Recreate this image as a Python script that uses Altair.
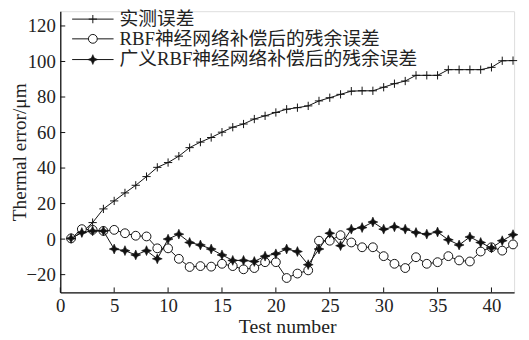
import altair as alt
import pandas as pd

test_no = list(range(1, 43))
measured = [0.4, 3.7, 9.3, 17.0, 21.5, 26.0, 30.3, 35.2, 40.4, 43.1,
            46.7, 51.5, 54.6, 57.2, 60.2, 63.0, 64.8, 67.6, 69.4, 71.3,
            73.1, 74.0, 75.0, 77.8, 79.6, 81.5, 83.3, 83.5, 83.5, 85.5,
            87.5, 89.0, 92.2, 92.2, 92.2, 95.4, 95.4, 95.4, 95.4, 96.7,
            100.4, 100.5]
rbf = [0.4, 5.6, 5.2, 4.6, 5.2, 3.3, 1.9, 1.5, -5.2, -5.2,
       -11.1, -15.7, -15.2, -15.5, -13.9, -15.2, -17.0, -16.3, -13.0, -13.0,
       -21.9, -19.4, -17.6, -0.9, -0.9, 2.2, -1.9, -4.6, -4.6, -9.6,
       -13.9, -16.3, -10.2, -13.9, -13.0, -9.6, -12.0, -12.6, -7.0, -4.6,
       -6.5, -3.0]
grbf = [0.4, 3.7, 4.6, 4.6, -5.6, -6.5, -8.9, -6.5, -11.1, 0.0,
        2.8, -1.9, -3.3, -5.6, -8.9, -12.0, -12.0, -12.6, -9.6, -8.3,
        -5.6, -7.0, -14.4, -5.6, 3.3, -3.7, 5.6, 6.5, 9.6, 5.6,
        6.9, 5.6, 3.7, 2.8, 4.0, -0.4, -3.3, 1.2, -1.9, -5.0,
        -0.9, 2.5]
x_ticks = [0, 5, 10, 15, 20, 25, 30, 35, 40]
y_ticks = [-20, 0, 20, 40, 60, 80, 100, 120]
legend_labels = ["实测误差", "RBF神经网络补偿后的残余误差", "广义RBF神经网络补偿后的残余误差"]

FONT = "Liberation Serif, Noto Sans CJK SC"
W, H = 460, 285
INK = "#111111"
TXT = "#222222"

PLUS = "M-1,0L1,0M0,-1L0,1"
STAR = "M0,-1L0.3,-0.3L1,0L0.3,0.3L0,1L-0.3,0.3L-1,0L-0.3,-0.3Z"

xscale = alt.Scale(domain=[0, 42.1], nice=False, zero=False)
yscale = alt.Scale(domain=[-30, 128.3], nice=False, zero=False)
xaxis = alt.Axis(title="Test number", values=x_ticks, ticks=False, grid=False,
                 labelFont=FONT, labelFontSize=19, labelColor=TXT, labelPadding=4,
                 labelFlush=False, titleFont=FONT, titleFontSize=20,
                 titleFontWeight="normal", titleColor=TXT, titlePadding=2,
                 domainColor=INK, domainWidth=1.3)
yaxis = alt.Axis(title="Thermal error/μm", values=y_ticks, ticks=False, grid=False,
                 labelFont=FONT, labelFontSize=19, labelColor=TXT, labelPadding=5,
                 labelFlush=False, titleFont=FONT, titleFontSize=19.5,
                 titleFontWeight="normal", titleColor=TXT, titleX=-31,
                 titleBaseline="bottom",
                 domainColor=INK, domainWidth=1.3)

df = pd.DataFrame({"n": test_no, "measured": measured, "rbf": rbf, "grbf": grbf})


def series(col, point_mark):
    base = alt.Chart(df).encode(
        x=alt.X("n:Q", scale=xscale, axis=xaxis),
        y=alt.Y(f"{col}:Q", scale=yscale, axis=yaxis),
    )
    return base.mark_line(color=INK, strokeWidth=1) + base.mark_point(**point_mark)


plus_mark = dict(shape=PLUS, size=70, filled=False, stroke=INK, strokeWidth=1, opacity=1)
circ_mark = dict(shape="circle", size=80, filled=True, fill="white", stroke=INK,
                 strokeWidth=1, opacity=1)
star_mark = dict(shape=STAR, size=100, filled=True, fill=INK, stroke=INK,
                 strokeWidth=0.6, opacity=1)

xt = alt.Chart(pd.DataFrame({"t": x_ticks})).mark_rule(color=INK, strokeWidth=1).encode(
    x=alt.X("t:Q", scale=xscale, axis=xaxis), y=alt.value(H), y2=alt.value(H - 5))
yt = alt.Chart(pd.DataFrame({"t": y_ticks})).mark_rule(color=INK, strokeWidth=1).encode(
    y=alt.Y("t:Q", scale=yscale, axis=yaxis), x=alt.value(0), x2=alt.value(5))

# legend (top-left, inside the plot)
leg_rows = [8, 28, 49]
leg_marks = [plus_mark, circ_mark, star_mark]
legend_layers = []
for lab, ry, pm in zip(legend_labels, leg_rows, leg_marks):
    ldf = pd.DataFrame({"label": [lab]})
    legend_layers.append(alt.Chart(ldf).mark_rule(color=INK, strokeWidth=1).encode(
        x=alt.value(12), x2=alt.value(54), y=alt.value(ry)))
    legend_layers.append(alt.Chart(ldf).mark_point(**pm).encode(
        x=alt.value(33), y=alt.value(ry)))
    legend_layers.append(alt.Chart(ldf).mark_text(
        align="left", baseline="middle", font=FONT, fontSize=19, color=TXT).encode(
        x=alt.value(60), y=alt.value(ry), text="label:N"))

chart = alt.layer(
    xt, yt,
    series("measured", plus_mark),
    series("rbf", circ_mark),
    series("grbf", star_mark),
    *legend_layers,
).properties(
    width=W, height=H,
    autosize=alt.AutoSizeParams(type="none"),
    padding={"left": 53, "top": 1, "right": 7, "bottom": 46},
).configure_view(strokeWidth=0).configure(background="white")

chart.save("out.html", embed_options={"renderer": "svg", "actions": False})
